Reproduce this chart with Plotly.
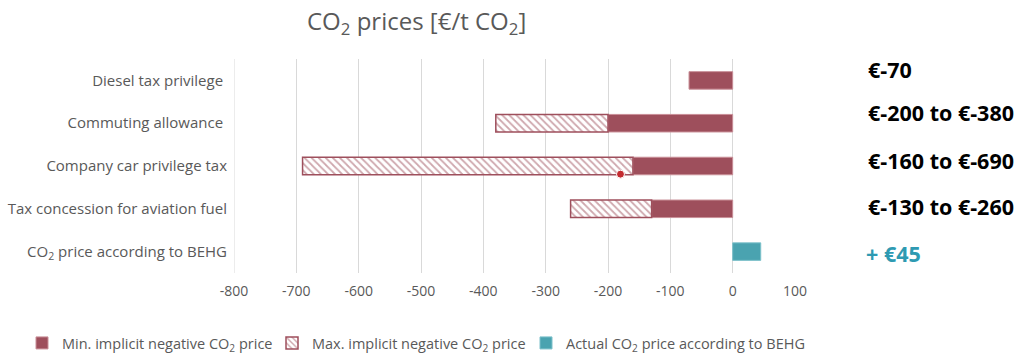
import plotly.graph_objects as go

categories = ["Diesel tax privilege ", "Commuting allowance ", "Company car privilege tax",
              "Tax concession for aviation fuel", "CO<sub>2</sub> price according to BEHG"]
min_price = [-70, -200, -160, -130, None]
max_price = [None, -380, -690, -260, None]
behg_price = [None, None, None, None, 45]
right_labels = ["€-70", "€-200 to €-380", "€-160 to €-690", "€-130 to €-260", "+ €45"]
dot_x = [-180]
dot_cat = [2]
x_ticks = [-800, -700, -600, -500, -400, -300, -200, -100, 0, 100]
x_ticktext = ["-800", "-700", "-600", "-500", "-400", "-300", "-200", "-100", "0", "100"]

RED = "#9e4f5c"
TEAL = "#4aa3b0"
GRAY = "#595959"
GRID = "#d9d9d9"
FONT = "Open Sans"

L, R, T, B = 234, 795, 59, 273
W, H = 1024, 358

ypos = list(range(len(categories)))
extra = [(mx - mn) if (mx is not None and mn is not None) else None for mn, mx in zip(min_price, max_price)]

fig = go.Figure()
fig.add_trace(go.Bar(
    y=ypos, x=min_price, orientation="h", name="Min. implicit negative CO<sub>2</sub> price",
    marker=dict(color=RED, line=dict(color="#c98f98", width=1)), legend="legend",
))
fig.add_trace(go.Bar(
    y=ypos, x=extra, orientation="h", name="Max. implicit negative CO<sub>2</sub> price",
    marker=dict(color="white", line=dict(color=RED, width=1.5),
                pattern=dict(shape="\\", fgcolor=RED, bgcolor="white", size=5, solidity=0.35)),
    legend="legend2",
))
fig.add_trace(go.Bar(
    y=ypos, x=behg_price, orientation="h", name="Actual CO<sub>2</sub> price according to BEHG",
    marker=dict(color=TEAL, line=dict(color="#7cc0ca", width=1)), legend="legend3",
))
fig.add_trace(go.Scatter(
    x=dot_x, y=[c + 0.19 for c in dot_cat], mode="markers", showlegend=False,
    marker=dict(color="#c42b30", size=8, line=dict(color="white", width=1)),
))

# gridline at the left edge of the axis range
fig.add_vline(x=x_ticks[0], line=dict(color=GRID, width=1), layer="below")

label_y_px = [69, 113, 160, 206, 253]
for i, t in enumerate(right_labels):
    is_last = i == len(right_labels) - 1
    px = 864 if is_last else 866
    fig.add_annotation(
        x=(px - L) / (R - L), xref="x domain",
        y=1 - (label_y_px[i] - T) / (B - T), yref="y domain", yanchor="middle",
        text=f"<b>{t}</b>", showarrow=False, xanchor="left",
        font=dict(family=FONT, size=21.5, color="#2e9ab2" if is_last else "black"),
    )

fig.add_annotation(
    x=(305 - L) / (R - L), xref="x domain", y=1 + (T - 22) / (B - T), yref="y domain",
    yanchor="middle", xanchor="left",
    text="CO<sub>2</sub> prices [€/t CO<sub>2</sub>]", showarrow=False,
    font=dict(family=FONT, size=24, color=GRAY),
)

leg_common = dict(orientation="h", xref="container", y=15 / H, yref="container",
                  yanchor="middle", xanchor="left", font=dict(family=FONT, size=14.5, color=GRAY),
                  itemclick=False, bgcolor="rgba(0,0,0,0)")
fig.update_layout(
    width=W, height=H,
    margin=dict(l=L, r=W - R, t=T, b=H - B, autoexpand=False),
    barmode="relative", bargap=0.59,
    plot_bgcolor="white", paper_bgcolor="white",
    font=dict(family=FONT, size=13, color=GRAY),
    showlegend=True,
    legend=dict(x=22 / W, **leg_common),
    legend2=dict(x=272 / W, **leg_common),
    legend3=dict(x=526 / W, **leg_common),
)
fig.update_xaxes(range=[-800, 100], tickvals=x_ticks, ticktext=x_ticktext, showgrid=True,
                 gridcolor=GRID, gridwidth=1, automargin=False,
                 zeroline=True, zerolinecolor=GRID, zerolinewidth=1, showline=False,
                 tickfont=dict(family=FONT, size=14, color=GRAY), ticklabelstandoff=8)
fig.update_yaxes(range=[4.5, -0.5], tickvals=ypos, ticktext=categories, showgrid=False, automargin=False,
                 zeroline=False, showline=False, tickfont=dict(family=FONT, size=15, color=GRAY),
                 ticklabelstandoff=6)

fig.write_html("out.html", config={"displayModeBar": False},
               post_script="document.body.style.margin='0';")
